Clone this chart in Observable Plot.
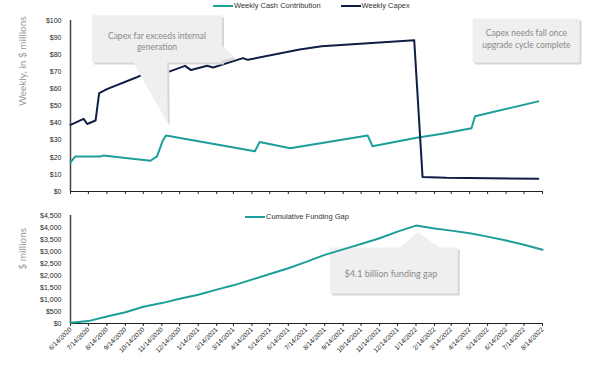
<!DOCTYPE html>
<html><head><meta charset="utf-8">
<script src="https://cdn.jsdelivr.net/npm/d3@7"></script>
<script src="https://cdn.jsdelivr.net/npm/@observablehq/plot@0.6"></script>
<style>
body{margin:0;background:#fff;font-family:"Liberation Sans",Arial,sans-serif;}
#wrap{position:relative;width:600px;height:375px;overflow:hidden}
#wrap svg{display:block}
.legend{position:absolute;font-size:7.5px;color:#333;display:flex;align-items:center;white-space:nowrap;line-height:1}
.sw{display:inline-block;width:20px;height:2px;margin-right:1px}
</style></head><body><div id="wrap"></div>
<script>
// ---- data ----
const monthTickLabels = ["6/14/2020","7/14/2020","8/14/2020","9/14/2020","10/14/2020","11/14/2020","12/14/2020","1/14/2021","2/14/2021","3/14/2021","4/14/2021","5/14/2021","6/14/2021","7/14/2021","8/14/2021","9/14/2021","10/14/2021","11/14/2021","12/14/2021","1/14/2022","2/14/2022","3/14/2022","4/14/2022","5/14/2022","6/14/2022","7/14/2022","8/14/2022"];

const capexDates = ["6/14/2020","7/6/2020","7/12/2020","7/26/2020","8/1/2020","8/15/2020","10/1/2020","10/9/2020","11/24/2020","12/23/2020","1/2/2021","1/29/2021","2/8/2021","3/30/2021","4/7/2021","7/3/2021","8/9/2021","1/11/2022","1/25/2022","3/6/2022","5/17/2022","8/7/2022"];
const capexValues = [39,42.5,39.5,41.5,57.5,60,66.5,67.8,69.8,73.5,71,73.5,72.5,78,77,83,85,88.5,8.5,8,7.7,7.5];

const cashDates = ["6/14/2020","6/22/2020","8/3/2020","8/8/2020","10/26/2020","11/6/2020","11/16/2020","11/21/2020","4/19/2021","4/27/2021","6/17/2021","10/25/2021","11/2/2021","1/15/2022","2/27/2022","4/17/2022","4/23/2022","8/7/2022"];
const cashValues = [17,20.5,20.5,21,18,20.5,30,32.8,23.5,29,25.3,32.8,26.5,31.4,33.8,37,44,52.7];

const gapDates = monthTickLabels;
const gapValues = [30,100,290,470,700,850,1030,1200,1410,1590,1830,2060,2300,2570,2860,3090,3310,3550,3830,4080,3960,3870,3760,3620,3460,3280,3070];

const topTicks = [0,10,20,30,40,50,60,70,80,90,100];
const bottomTicks = [0,500,1000,1500,2000,2500,3000,3500,4000,4500];

// callouts (in data units)
const callout1Dates = ["7/20/2020","2/23/2021","2/23/2021","3/15/2021","2/23/2021","2/23/2021","11/23/2020","11/24/2020","9/27/2020","7/20/2020","7/20/2020"];
const callout1Values = [103,103,85.4,78.4,76.6,75.4,75.4,39.8,75.4,75.4,103];
const callout1Text = "Capex far exceeds internal\ngeneration";
const callout1At = ["11/6/2020", 88];

const callout2Dates = ["4/19/2022","10/15/2022","10/15/2022","4/19/2022","4/19/2022"];
const callout2Values = [101.2,101.2,75.4,75.4,101.2];
const callout2Text = "Capex needs fall once\nupgrade cycle complete";
const callout2At = ["7/18/2022", 89.5];

const callout3Dates = ["8/23/2021","12/18/2021","1/17/2022","2/23/2022","3/25/2022","3/25/2022","8/23/2021","8/23/2021"];
const callout3Values = [3167,3167,3790,3167,3167,1250,1250,3167];
const callout3Text = "$4.1 billion funding gap";
const callout3At = ["12/3/2021", 2083];

// ---- build ----
const parse = d3.utcParse("%m/%d/%Y");
const teal = "#1c9e9a", navy = "#0f1e45";
const xDomain = [parse(monthTickLabels[0]), parse(monthTickLabels[monthTickLabels.length-1])];
const tickDates = monthTickLabels.map(parse);
const zipPts = (ds, vs) => ds.map((d,i)=>({x:parse(d), y:vs[i]}));
const capex = zipPts(capexDates, capexValues);
const cash = zipPts(cashDates, cashValues);
const gap = zipPts(gapDates, gapValues);
const c1 = zipPts(callout1Dates, callout1Values);
const c2 = zipPts(callout2Dates, callout2Values);
const c3 = zipPts(callout3Dates, callout3Values);

function calloutMarks(pts, text, at, fs){
  return [
    Plot.line(pts, {x:"x", y:"y", fill:"#d6d6d6", stroke:"none", dx:2, dy:2, curve:"linear"}),
    Plot.line(pts, {x:"x", y:"y", fill:"#efefef", stroke:"none", curve:"linear"}),
    Plot.text([text], {x:()=>parse(at[0]), y:()=>at[1], text:d=>d, fill:"#8a8a8a", fontSize:fs, fontFamily:"Lato, 'Open Sans', sans-serif", lineHeight:1.3, textAnchor:"middle"})
  ];
}

const common = {width:600, marginLeft:70, marginRight:58,
  style:{fontFamily:"'Liberation Sans', Arial, sans-serif", fontSize:"7px", color:"#222", background:"transparent", overflow:"visible"}};

const topPlot = Plot.plot({
  ...common, height:200, marginTop:20, marginBottom:9,
  x:{type:"utc", domain:xDomain},
  y:{domain:[0,100]},
  marks:[
    Plot.axisY({ticks:topTicks, tickFormat:d=>"$"+d, tickSize:0, tickPadding:9, label:null}),
    Plot.axisX({ticks:tickDates, tickFormat:()=>"", tickSize:3, label:null, stroke:"#222"}),
    Plot.text(["Weekly, in $ millions"], {frameAnchor:"left", rotate:-90, dx:-48, fill:"#9a9a9a", fontSize:10, fontFamily:"Lato, sans-serif"}),
    Plot.ruleX([xDomain[0]], {stroke:"#444", strokeWidth:1.5}),
    Plot.ruleY([0], {stroke:"#222"}),
    Plot.line(cash, {x:"x", y:"y", stroke:teal, strokeWidth:2}),
    Plot.line(capex, {x:"x", y:"y", stroke:navy, strokeWidth:2}),
    ...calloutMarks(c1, callout1Text, callout1At, 8.5),
    ...calloutMarks(c2, callout2Text, callout2At, 8.5)
  ]
});

const bottomPlot = Plot.plot({
  ...common, height:175, marginTop:15, marginBottom:52,
  x:{type:"utc", domain:xDomain},
  y:{domain:[0,4500]},
  marks:[
    Plot.axisY({ticks:bottomTicks, tickFormat:d=>"$"+d3.format(",")(d), tickSize:0, tickPadding:9, label:null}),
    Plot.axisX({ticks:tickDates, tickFormat:(d,i)=>monthTickLabels[i], tickSize:3, tickPadding:2, tickRotate:-45, label:null, fontSize:6.5}),
    Plot.text(["$ millions"], {frameAnchor:"left", rotate:-90, dx:-48, fill:"#9a9a9a", fontSize:10, fontFamily:"Lato, sans-serif"}),
    ...calloutMarks(c3, callout3Text, callout3At, 9),
    Plot.ruleX([xDomain[0]], {stroke:"#444", strokeWidth:1.5}),
    Plot.ruleY([0], {stroke:"#222"}),
    Plot.line(gap, {x:"x", y:"y", stroke:teal, strokeWidth:2})
  ]
});

const wrap = document.getElementById("wrap");
wrap.appendChild(topPlot);
wrap.appendChild(bottomPlot);

function legend(items, left, top){
  const div = document.createElement("div");
  div.className = "legend";
  div.style.left = left+"px"; div.style.top = top+"px";
  items.forEach(([label,color],i)=>{
    const s = document.createElement("span"); s.className="sw"; s.style.background=color;
    if(i>0) s.style.marginLeft="20px";
    const t = document.createElement("span"); t.textContent = label;
    div.appendChild(s); div.appendChild(t);
  });
  wrap.appendChild(div);
}
legend([["Weekly Cash Contribution", teal],["Weekly Capex", navy]], 213, 2);
legend([["Cumulative Funding Gap", teal]], 245, 213);
</script>
</body></html>
